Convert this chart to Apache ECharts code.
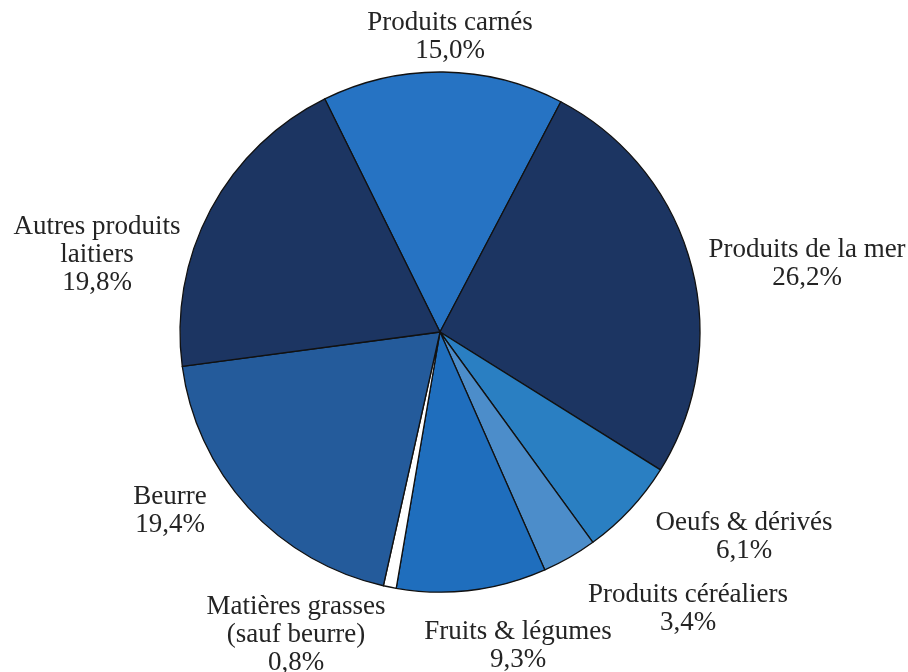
<!DOCTYPE html>
<html><head><meta charset="utf-8">
<script src="https://cdn.jsdelivr.net/npm/echarts@6/dist/echarts.min.js"></script>
<style>html,body{margin:0;padding:0;background:#fff}#c{width:908px;height:672px}</style>
</head><body><div id="c"></div>
<script>
var categories = ["Produits carnés","Produits de la mer","Oeufs & dérivés","Produits céréaliers","Fruits & légumes","Matières grasses\n(sauf beurre)","Beurre","Autres produits\nlaitiers"];
var values = [15.0, 26.2, 6.1, 3.4, 9.3, 0.8, 19.4, 19.8];
var colors = ["#2673c3","#1c3562","#2a7fc2","#4c8dca","#1f6ebd","#ffffff","#245b9b","#1c3562"];
// label anchor points (px) for each slice label
var labelX = [450, 807, 744, 688, 518, 296, 170, 97];
var labelY = [37, 264, 537, 609, 646, 635, 511, 255];

var chart = echarts.init(document.getElementById('c'), null, {renderer:'canvas'});
chart.setOption({
  animation:false,
  backgroundColor:'#ffffff',
  series:[{
    type:'pie',
    center:[440,332],
    radius:[0,260],
    startAngle:116.3,
    clockwise:true,
    avoidLabelOverlap:false,
    data: categories.map(function(n,i){return {name:n, value:values[i], itemStyle:{color:colors[i]}};}),
    itemStyle:{borderColor:'#111111', borderWidth:1.3},
    label:{
      show:true, position:'outside', color:'#242424',
      fontFamily:'Liberation Serif, DejaVu Serif, serif', fontSize:27, lineHeight:28,
      align:'center',
      formatter:function(p){return p.name + '\n' + p.value.toFixed(1).replace('.',',') + '%';}
    },
    labelLine:{show:false},
    labelLayout:function(p){
      return {x:labelX[p.dataIndex], y:labelY[p.dataIndex], align:'center', verticalAlign:'middle'};
    },
    emphasis:{disabled:true}
  }]
});
</script></body></html>
